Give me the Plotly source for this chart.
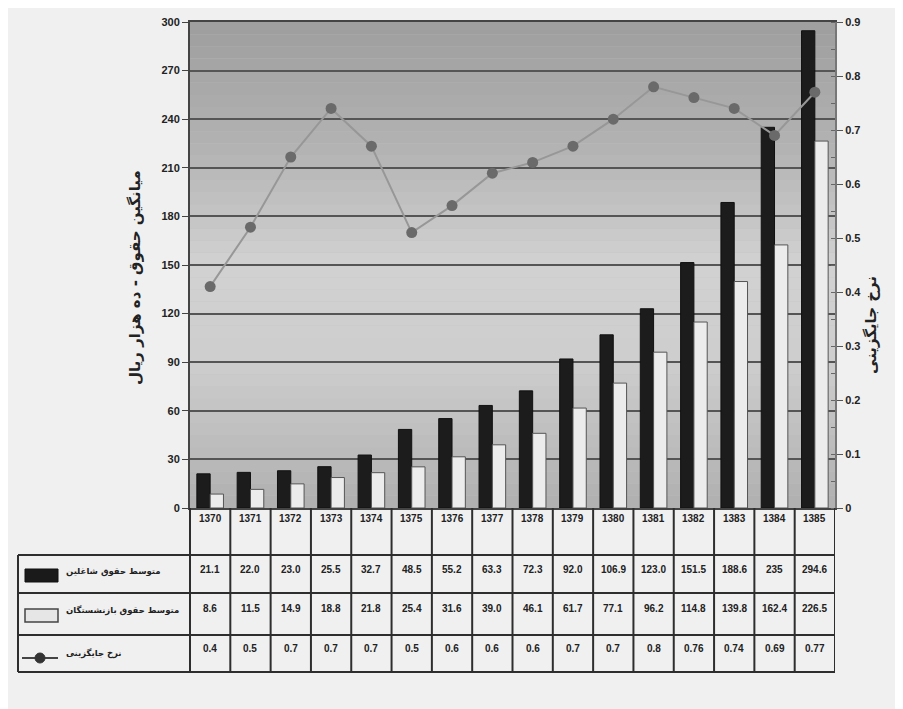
import plotly.graph_objects as go

years = [1370, 1371, 1372, 1373, 1374, 1375, 1376, 1377, 1378, 1379, 1380, 1381, 1382, 1383, 1384, 1385]
employed = [21.1, 22.0, 23.0, 25.5, 32.7, 48.5, 55.2, 63.3, 72.3, 92.0, 106.9, 123.0, 151.5, 188.6, 235, 294.6]
retired = [8.6, 11.5, 14.9, 18.8, 21.8, 25.4, 31.6, 39.0, 46.1, 61.7, 77.1, 96.2, 114.8, 139.8, 162.4, 226.5]
rate_plot = [0.41, 0.52, 0.65, 0.74, 0.67, 0.51, 0.56, 0.62, 0.64, 0.67, 0.72, 0.78, 0.76, 0.74, 0.69, 0.77]
employed_lbl = ["21.1", "22.0", "23.0", "25.5", "32.7", "48.5", "55.2", "63.3", "72.3", "92.0", "106.9", "123.0", "151.5", "188.6", "235", "294.6"]
retired_lbl = ["8.6", "11.5", "14.9", "18.8", "21.8", "25.4", "31.6", "39.0", "46.1", "61.7", "77.1", "96.2", "114.8", "139.8", "162.4", "226.5"]
rate_lbl = ["0.4", "0.5", "0.7", "0.7", "0.7", "0.5", "0.6", "0.6", "0.6", "0.7", "0.7", "0.8", "0.76", "0.74", "0.69", "0.77"]
series_names = ["متوسط حقوق شاغلین", "متوسط حقوق بازنشستگان", "نرخ جایگزینی"]
left_title = "میانگین حقوق - ده هزار ریال"
right_title = "نرخ جایگزینی"

OFF = 8  # page body margin
W, H = 903 - OFF, 709 - OFF
# plot area in page pixels: x 190..835, y 22..508
PX0, PX1, PY0, PY1 = 190, 835, 22, 508
L, R, T, B = PX0 - OFF, 903 - PX1, PY0 - OFF, 709 - PY1
PW, PH = PX1 - PX0, PY1 - PY0

def px(x):
    return (x - PX0) / PW

def py(y):
    return (PY1 - y) / PH

FONT = "Liberation Sans"
LINE = "#2e2e2e"

fig = go.Figure()
fig.add_trace(go.Bar(x=years, y=employed, name=series_names[0],
                     marker=dict(color="#1c1c1c", line=dict(color="#111", width=1))))
fig.add_trace(go.Bar(x=years, y=retired, name=series_names[1],
                     marker=dict(color="#ececec", line=dict(color="#555", width=1))))
fig.add_trace(go.Scatter(x=years, y=rate_plot, name=series_names[2], yaxis="y2",
                         mode="lines+markers",
                         line=dict(color="#979797", width=2),
                         marker=dict(color="#6a6a6a", size=11)))

shapes = []
# gradient background bands
stops = [(0.0, (176, 176, 176)), (0.3, (206, 206, 206)), (0.5, (210, 210, 210)),
         (0.75, (178, 178, 178)), (1.0, (158, 158, 158))]
N = 40
for i in range(N):
    t = (i + 0.5) / N
    for j in range(len(stops) - 1):
        if stops[j][0] <= t <= stops[j + 1][0]:
            f = (t - stops[j][0]) / (stops[j + 1][0] - stops[j][0])
            c = [int(stops[j][1][k] + f * (stops[j + 1][1][k] - stops[j][1][k])) for k in range(3)]
            break
    shapes.append(dict(type="rect", xref="paper", yref="paper", x0=0, x1=1,
                       y0=i / N, y1=(i + 1) / N, fillcolor="rgb(%d,%d,%d)" % tuple(c),
                       line=dict(width=0), layer="below"))

# table grid
for yy in [555, 593, 635, 672]:
    shapes.append(dict(type="line", xref="paper", yref="paper", x0=px(18), x1=px(835),
                       y0=py(yy), y1=py(yy), line=dict(color=LINE, width=2)))
shapes.append(dict(type="line", xref="paper", yref="paper", x0=px(18), x1=px(18),
                   y0=py(555), y1=py(672), line=dict(color=LINE, width=2)))
shapes.append(dict(type="line", xref="paper", yref="paper", x0=0, x1=0,
                   y0=0, y1=py(672), line=dict(color=LINE, width=2)))
for yr in years:
    shapes.append(dict(type="line", xref="x", yref="paper", x0=yr + 0.5, x1=yr + 0.5,
                       y0=0, y1=py(672), line=dict(color=LINE, width=2)))

# legend keys in table
shapes.append(dict(type="rect", xref="paper", yref="paper", x0=px(25), x1=px(58),
                   y0=py(582), y1=py(569), fillcolor="#1a1a1a", line=dict(color="#111", width=1)))
shapes.append(dict(type="rect", xref="paper", yref="paper", x0=px(25), x1=px(58),
                   y0=py(622), y1=py(609), fillcolor="#e6e6e6", line=dict(color="#444", width=1.5)))
shapes.append(dict(type="line", xref="paper", yref="paper", x0=px(22), x1=px(58),
                   y0=py(658), y1=py(658), line=dict(color="#444", width=2)))
shapes.append(dict(type="circle", xref="paper", yref="paper", x0=px(35), x1=px(45),
                   y0=py(663), y1=py(653), fillcolor="#333", line=dict(color="#333", width=1)))

ann = []
tf = dict(family=FONT, size=10, color="#222", weight=700)
for i, yr in enumerate(years):
    ann.append(dict(x=yr, y=py(526), xref="x", yref="paper", text=str(yr), showarrow=False, font=tf))
    ann.append(dict(x=yr, y=py(577), xref="x", yref="paper", text=employed_lbl[i], showarrow=False, font=tf))
    ann.append(dict(x=yr, y=py(616), xref="x", yref="paper", text=retired_lbl[i], showarrow=False, font=tf))
    ann.append(dict(x=yr, y=py(656), xref="x", yref="paper", text=rate_lbl[i], showarrow=False, font=tf))
for name, yy in zip(series_names, [579, 618, 661]):
    ann.append(dict(x=px(64), y=py(yy), xref="paper", yref="paper", text=name, showarrow=False,
                    xanchor="left", font=dict(family="DejaVu Sans", size=8.5, color="#222", weight=700)))
ann.append(dict(x=px(124), y=py(278), xref="paper", yref="paper", text=left_title, showarrow=False,
                textangle=-90, font=dict(family="DejaVu Sans", size=15, color="#222", weight=700)))
ann.append(dict(x=px(882), y=py(325), xref="paper", yref="paper", text=right_title, showarrow=False,
                textangle=-90, font=dict(family="DejaVu Sans", size=15, color="#222", weight=700)))

fig.update_layout(
    width=W, height=H,
    margin=dict(l=L, r=R, t=T, b=B, autoexpand=False),
    paper_bgcolor="#f0f0f0", plot_bgcolor="#c0c0c0",
    barmode="group", bargap=0.34, bargroupgap=0.0,
    showlegend=False,
    xaxis=dict(range=[1369.5, 1385.5], showticklabels=False, ticks="", showgrid=False,
               showline=True, linecolor="#444", linewidth=2, mirror=True, zeroline=False),
    yaxis=dict(range=[0, 300], dtick=30, showgrid=True, gridcolor="#555", gridwidth=2,
               ticks="outside", ticklen=6, tickcolor="#444", showline=True, linecolor="#444",
               linewidth=2, zeroline=False, tickfont=dict(family=FONT, size=11, color="#222", weight=700)),
    yaxis2=dict(range=[0, 0.9], dtick=0.1, overlaying="y", side="right", showgrid=False,
                ticks="outside", ticklen=6, tickcolor="#555", showline=True, linecolor="#777",
                linewidth=2, zeroline=False, tickformat="~g",
                minor=dict(ticks="inside", ticklen=4, tickcolor="#666", dtick=0.05),
                tickfont=dict(family=FONT, size=11, color="#222", weight=700)),
    shapes=shapes, annotations=ann,
)

fig.write_html("out.html")
